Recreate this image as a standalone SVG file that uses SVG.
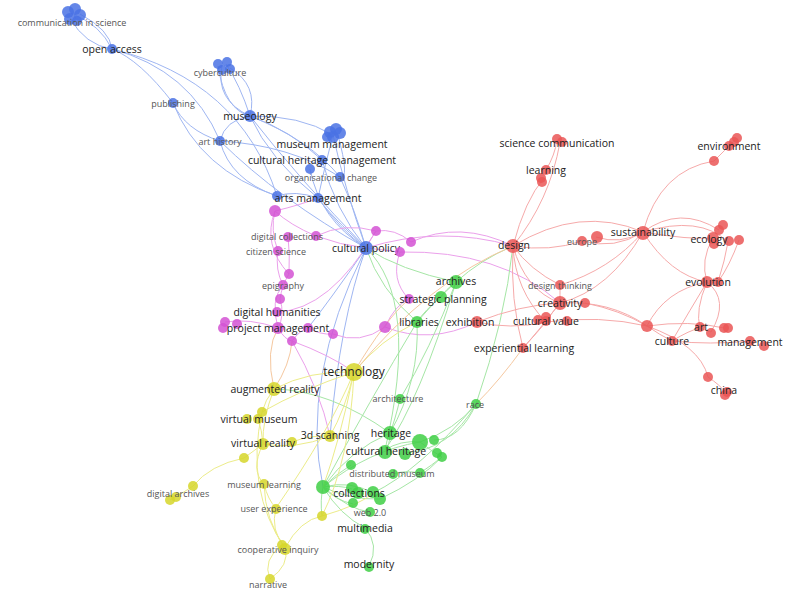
<svg xmlns="http://www.w3.org/2000/svg" width="785" height="598" viewBox="0 0 785 598">
<style>
.e{fill:none;stroke-width:1}
.eb{stroke:#9fb6f2}.er{stroke:#f6aaaa}.eg{stroke:#a5e6a5}.ey{stroke:#ecec8a}.em{stroke:#eba0eb}.eo{stroke:#f5c8a0}
.b{fill:#4a72e4;fill-opacity:.85}.r{fill:#ea5656;fill-opacity:.85}.g{fill:#3fcf45;fill-opacity:.85}.y{fill:#d6d62a;fill-opacity:.85}.m{fill:#d452d4;fill-opacity:.85}
text{font-family:"Open Sans","Noto Sans",sans-serif;text-anchor:middle;dominant-baseline:central}
.L{font-size:10.5px;fill:#222}.S{font-size:9px;fill:#555}.T{font-size:12px;fill:#222}
</style>
<rect width="785" height="598" fill="#fff"/>
<g id="connectors">
<path class="e eb" d="M75 15 Q100 25 112 49"/><path class="e eb" d="M70 18 Q85 45 112 49"/><path class="e eb" d="M80 14 Q110 30 112 49"/>
<path class="e eb" d="M112 49 Q140 60 173 103"/><path class="e eb" d="M112 49 Q190 70 220 141"/><path class="e eb" d="M112 49 Q240 80 277 196"/>
<path class="e eb" d="M173 103 Q185 130 220 141"/><path class="e eb" d="M173 103 Q200 170 277 196"/>
<path class="e eb" d="M222 66 Q215 100 250 116"/><path class="e eb" d="M226 64 Q240 85 250 116"/><path class="e eb" d="M230 68 Q258 85 250 116"/><path class="e eb" d="M218 66 Q225 110 250 116"/>
<path class="e eb" d="M250 116 Q225 120 220 141"/><path class="e eb" d="M250 116 Q300 115 333 135"/><path class="e eb" d="M250 116 Q290 130 322 160"/><path class="e eb" d="M250 116 Q270 160 318 198"/><path class="e eb" d="M250 116 Q300 180 366 248"/><path class="e eb" d="M250 116 Q310 140 340 177"/>
<path class="e eb" d="M220 141 Q230 180 277 196"/><path class="e eb" d="M220 141 Q280 200 366 248"/><path class="e eb" d="M220 141 Q290 145 340 177"/>
<path class="e eb" d="M333 135 Q345 190 366 248"/><path class="e eb" d="M333 135 Q325 165 318 198"/><path class="e eb" d="M322 160 Q335 210 366 248"/><path class="e eb" d="M310 169 Q320 220 366 248"/><path class="e eb" d="M340 177 Q355 210 366 248"/><path class="e eb" d="M318 198 Q340 230 366 248"/><path class="e eb" d="M318 198 Q330 215 366 248"/><path class="e eb" d="M318 198 Q295 190 277 196"/><path class="e eb" d="M338 135 Q350 180 340 177"/>
<path class="e eb" d="M366 248 Q300 380 323 487"/><path class="e eb" d="M366 248 Q340 320 330 436"/><path class="e eb" d="M366 248 Q330 300 308 328"/>
<path class="e em" d="M366 248 Q440 225 513 246"/><path class="e em" d="M400 252 Q500 250 560 303"/>
<path class="e em" d="M275 211 Q290 225 316 236"/><path class="e em" d="M275 211 Q300 205 318 198"/><path class="e em" d="M275 211 Q270 230 278 251"/><path class="e em" d="M316 236 Q340 245 366 248"/><path class="e em" d="M288 236 Q290 255 289 274"/><path class="e em" d="M278 251 Q275 270 283 285"/><path class="e em" d="M289 274 Q282 285 280 299"/><path class="e em" d="M283 285 Q270 300 278 328"/><path class="e em" d="M280 299 Q285 315 278 328"/><path class="e em" d="M278 328 Q250 318 225 322"/><path class="e em" d="M278 328 Q285 340 292 341"/><path class="e em" d="M292 341 Q300 330 308 328"/><path class="e em" d="M308 328 Q320 335 333 334"/><path class="e em" d="M333 334 Q360 345 385 327"/><path class="e em" d="M385 327 Q395 305 409 299"/><path class="e em" d="M376 231 Q395 228 411 242"/><path class="e em" d="M376 231 Q370 240 366 248"/><path class="e em" d="M411 242 Q460 220 513 246"/><path class="e em" d="M400 252 Q390 280 409 299"/><path class="e em" d="M316 236 Q345 222 376 231"/><path class="e em" d="M385 327 Q430 345 477 322"/><path class="e em" d="M366 248 Q385 250 400 252"/><path class="e em" d="M292 341 Q330 355 354 372"/><path class="e em" d="M275 211 Q262 245 289 274"/><path class="e em" d="M292 341 Q320 390 330 436"/><path class="e em" d="M277 312 Q330 310 376 231"/>
<path class="e eg" d="M456 282 Q435 300 417 322"/><path class="e eg" d="M456 282 Q445 290 441 297"/><path class="e eg" d="M441 297 Q425 310 417 322"/><path class="e eg" d="M456 282 Q400 270 366 248"/><path class="e eg" d="M417 322 Q380 290 366 248"/><path class="e eg" d="M417 322 Q420 380 390 433"/><path class="e eg" d="M456 282 Q430 350 400 399"/><path class="e eg" d="M400 399 Q395 420 390 433"/><path class="e eg" d="M476 404 Q455 430 420 442"/><path class="e eg" d="M476 404 Q460 440 434 440"/><path class="e eg" d="M476 404 Q450 450 405 453"/><path class="e eg" d="M476 404 Q505 320 513 246"/><path class="e eg" d="M456 282 Q480 260 513 246"/><path class="e eg" d="M390 433 Q390 445 385 450"/><path class="e eg" d="M420 442 Q400 440 385 450"/><path class="e eg" d="M420 442 Q430 450 442 457"/><path class="e eg" d="M323 487 Q340 485 352 489"/><path class="e eg" d="M323 487 Q350 480 373 493"/><path class="e eg" d="M323 487 Q350 500 380 499"/><path class="e eg" d="M323 487 Q335 500 353 504"/><path class="e eg" d="M323 487 Q350 510 370 512"/><path class="e eg" d="M323 487 Q340 515 365 528"/><path class="e eg" d="M323 487 Q350 450 390 433"/><path class="e eg" d="M323 487 Q370 450 420 442"/><path class="e eg" d="M365 528 Q380 545 369 566"/><path class="e eg" d="M351 465 Q335 475 323 487"/><path class="e eg" d="M393 474 Q405 470 420 473"/><path class="e eg" d="M420 473 Q432 465 442 457"/><path class="e eg" d="M417 322 Q370 400 323 487"/><path class="e eg" d="M274 389 Q330 390 390 433"/><path class="e eg" d="M322 516 Q320 500 323 487"/><path class="e eg" d="M373 493 Q420 470 476 404"/><path class="e eg" d="M380 499 Q420 480 442 457"/><path class="e eg" d="M456 282 Q420 400 385 450"/><path class="e eg" d="M366 248 Q420 300 385 450"/>
<path class="e ey" d="M354 372 Q310 370 274 389"/><path class="e ey" d="M354 372 Q345 410 330 436"/><path class="e ey" d="M354 372 Q300 390 262 412"/><path class="e ey" d="M354 372 Q380 340 417 322"/><path class="e eo" d="M354 372 Q385 320 409 299"/><path class="e ey" d="M354 372 Q350 460 322 516"/><path class="e ey" d="M354 372 Q340 440 323 487"/><path class="e ey" d="M274 389 Q265 400 262 412"/><path class="e ey" d="M274 389 Q262 420 263 444"/><path class="e ey" d="M258 419 Q262 430 263 444"/><path class="e ey" d="M263 444 Q255 450 244 458"/><path class="e ey" d="M244 458 Q210 465 193 486"/><path class="e ey" d="M193 486 Q180 495 170 500"/><path class="e ey" d="M263 444 Q250 470 264 484"/><path class="e ey" d="M264 484 Q268 500 276 508"/><path class="e ey" d="M276 508 Q270 530 285 548"/><path class="e ey" d="M285 548 Q290 565 270 579"/><path class="e ey" d="M285 548 Q300 520 322 516"/><path class="e ey" d="M330 436 Q310 435 292 442"/><path class="e ey" d="M330 436 Q295 450 263 444"/><path class="e ey" d="M264 484 Q265 520 285 548"/><path class="e ey" d="M262 412 Q245 490 285 548"/><path class="e ey" d="M282 545 Q262 560 270 579"/><path class="e eo" d="M274 389 Q265 350 278 328"/><path class="e eo" d="M274 389 Q290 365 292 341"/><path class="e ey" d="M354 372 Q330 430 276 508"/><path class="e ey" d="M322 516 Q360 505 373 493"/><path class="e eo" d="M354 372 Q430 280 513 246"/>
<path class="e er" d="M557 140 Q555 155 546 170"/><path class="e er" d="M544 178 Q525 200 513 246"/><path class="e er" d="M560 142 Q550 200 513 246"/><path class="e er" d="M513 246 Q550 252 582 241"/><path class="e er" d="M596 237 Q620 245 643 232"/><path class="e er" d="M582 241 Q615 250 643 232"/><path class="e er" d="M513 246 Q580 205 643 232"/><path class="e er" d="M513 246 Q530 270 560 285"/><path class="e er" d="M513 246 Q525 290 560 303"/><path class="e er" d="M513 246 Q515 290 546 322"/><path class="e er" d="M513 246 Q510 300 523 348"/><path class="e er" d="M643 232 Q660 170 714 161"/><path class="e er" d="M714 161 Q725 150 733 142"/><path class="e er" d="M643 232 Q680 205 719 230"/><path class="e er" d="M643 232 Q690 240 713 238"/><path class="e er" d="M643 232 Q700 215 728 242"/><path class="e er" d="M643 232 Q670 275 707 282"/><path class="e er" d="M643 232 Q610 290 560 303"/><path class="e er" d="M643 232 Q610 270 560 285"/><path class="e er" d="M713 238 Q700 260 707 282"/><path class="e er" d="M728 242 Q725 260 718 282"/><path class="e er" d="M739 240 Q730 265 718 282"/><path class="e er" d="M707 282 Q665 290 647 326"/><path class="e er" d="M707 282 Q690 310 672 341"/><path class="e er" d="M707 282 Q695 310 700 328"/><path class="e er" d="M707 282 Q730 300 711 332"/><path class="e er" d="M560 303 Q610 300 647 326"/><path class="e er" d="M560 303 Q520 305 477 322"/><path class="e er" d="M546 322 Q600 315 647 326"/><path class="e er" d="M647 326 Q660 335 672 341"/><path class="e er" d="M672 341 Q690 330 700 328"/><path class="e er" d="M672 341 Q710 345 750 341"/><path class="e er" d="M647 326 Q700 345 708 377"/><path class="e er" d="M700 328 Q705 330 711 332"/><path class="e er" d="M560 303 Q550 315 546 322"/><path class="e er" d="M560 285 Q560 295 560 303"/><path class="e er" d="M546 322 Q535 335 523 348"/><path class="e er" d="M560 303 Q535 335 523 348"/><path class="e er" d="M477 322 Q510 330 546 322"/><path class="e er" d="M585 303 Q620 310 647 326"/><path class="e er" d="M708 377 Q720 385 725 392"/><path class="e er" d="M647 326 Q690 320 724 328"/>
<path class="e eo" d="M523 348 Q500 380 476 404"/>
</g>
<g id="n-communication-in-science"><circle class="b" cx="68" cy="12" r="6"/><circle class="b" cx="75" cy="9" r="6"/><circle class="b" cx="80" cy="15" r="6"/><circle class="b" cx="70" cy="19" r="6"/><circle class="b" cx="77" cy="21" r="5"/><text class="S" x="72" y="22">communication in science</text></g>
<g id="n-open-access"><circle class="b" cx="112" cy="49" r="5"/><text class="L" x="112" y="49">open access</text></g>
<g id="n-cyberculture"><circle class="b" cx="218" cy="64" r="5"/><circle class="b" cx="227" cy="62" r="5"/><circle class="b" cx="222" cy="70" r="5"/><circle class="b" cx="230" cy="69" r="5"/><text class="S" x="220" y="72">cyberculture</text></g>
<g id="n-publishing"><circle class="b" cx="173" cy="103" r="5"/><text class="S" x="173" y="103">publishing</text></g>
<g id="n-museology"><circle class="b" cx="250" cy="116" r="6"/><text class="L" x="250" y="116">museology</text></g>
<g id="n-art-history"><circle class="b" cx="220" cy="141" r="5"/><text class="S" x="220" y="141">art history</text></g>
<g id="n-museum-management"><circle class="b" cx="330" cy="132" r="6"/><circle class="b" cx="336" cy="129" r="6"/><circle class="b" cx="333" cy="137" r="6"/><circle class="b" cx="340" cy="133" r="6"/><circle class="b" cx="327" cy="137" r="5"/><text class="L" x="332" y="144">museum management</text></g>
<g id="n-cultural-heritage-management"><circle class="b" cx="322" cy="160" r="5"/><circle class="b" cx="310" cy="169" r="5"/><text class="L" x="322" y="160">cultural heritage management</text></g>
<g id="n-organisational-change"><circle class="b" cx="340" cy="177" r="5"/><text class="S" x="331" y="177">organisational change</text></g>
<g id="n-arts-management"><circle class="b" cx="318" cy="198" r="5"/><circle class="b" cx="277" cy="196" r="5"/><text class="L" x="318" y="198">arts management</text></g>
<g id="n-cultural-policy"><circle class="b" cx="366" cy="248" r="7"/><text class="L" x="366" y="248">cultural policy</text></g>
<g id="n-magenta-misc"><circle class="m" cx="275" cy="211" r="6"/><circle class="m" cx="316" cy="236" r="5"/><circle class="m" cx="289" cy="274" r="5"/><circle class="m" cx="280" cy="299" r="5"/><circle class="m" cx="225" cy="322" r="5"/><circle class="m" cx="223" cy="328" r="5"/><circle class="m" cx="237" cy="324" r="5"/><circle class="m" cx="292" cy="341" r="5"/><circle class="m" cx="308" cy="328" r="5"/><circle class="m" cx="333" cy="334" r="5"/><circle class="m" cx="385" cy="327" r="6"/><circle class="m" cx="376" cy="231" r="5"/><circle class="m" cx="400" cy="252" r="5"/><circle class="m" cx="411" cy="242" r="5"/></g>
<g id="n-digital-collections"><circle class="m" cx="288" cy="237" r="5"/><text class="S" x="287" y="236">digital collections</text></g>
<g id="n-citizen-science"><circle class="m" cx="278" cy="251" r="5"/><text class="S" x="276" y="251">citizen science</text></g>
<g id="n-epigraphy"><circle class="m" cx="283" cy="285" r="5"/><text class="S" x="283" y="285">epigraphy</text></g>
<g id="n-digital-humanities"><circle class="m" cx="277" cy="312" r="5"/><text class="L" x="277" y="312">digital humanities</text></g>
<g id="n-project-management"><circle class="m" cx="278" cy="328" r="6"/><text class="L" x="278" y="328">project management</text></g>
<g id="n-strategic-planning"><circle class="m" cx="409" cy="299" r="5"/><circle class="g" cx="441" cy="297" r="6"/><text class="L" x="443" y="299">strategic planning</text></g>
<g id="n-archives"><circle class="g" cx="456" cy="282" r="7"/><text class="L" x="456" y="281">archives</text></g>
<g id="n-libraries"><circle class="g" cx="417" cy="322" r="6"/><text class="L" x="419" y="322">libraries</text></g>
<g id="n-exhibition"><circle class="r" cx="477" cy="322" r="6"/><text class="L" x="470" y="322">exhibition</text></g>
<g id="n-architecture"><circle class="g" cx="400" cy="399" r="5"/><text class="S" x="398" y="398">architecture</text></g>
<g id="n-race"><circle class="g" cx="476" cy="404" r="5"/><text class="S" x="475" y="404">race</text></g>
<g id="n-heritage"><circle class="g" cx="390" cy="433" r="7"/><text class="L" x="391" y="433">heritage</text></g>
<g id="n-cultural-heritage"><circle class="g" cx="420" cy="442" r="8"/><circle class="g" cx="385" cy="452" r="7"/><circle class="g" cx="405" cy="454" r="6"/><circle class="g" cx="434" cy="440" r="5"/><circle class="g" cx="437" cy="453" r="5"/><circle class="g" cx="442" cy="457" r="5"/><circle class="g" cx="351" cy="465" r="5"/><text class="L" x="386" y="451">cultural heritage</text></g>
<g id="n-distributed-museum"><circle class="g" cx="393" cy="474" r="5"/><circle class="g" cx="420" cy="473" r="5"/><text class="S" x="392" y="473">distributed museum</text></g>
<g id="n-collections"><circle class="g" cx="323" cy="487" r="7"/><circle class="g" cx="352" cy="488" r="6"/><circle class="g" cx="358" cy="493" r="6"/><circle class="g" cx="373" cy="492" r="6"/><circle class="g" cx="380" cy="499" r="6"/><circle class="g" cx="353" cy="503" r="5"/><text class="L" x="359" y="493">collections</text></g>
<g id="n-web-2-0"><circle class="g" cx="370" cy="512" r="5"/><text class="S" x="370" y="512">web 2.0</text></g>
<g id="n-multimedia"><circle class="g" cx="365" cy="529" r="5"/><text class="L" x="365" y="528">multimedia</text></g>
<g id="n-modernity"><circle class="g" cx="369" cy="567" r="5"/><text class="L" x="369" y="564">modernity</text></g>
<g id="n-technology"><circle class="y" cx="354" cy="372" r="9"/><text class="T" x="354" y="371">technology</text></g>
<g id="n-augmented-reality"><circle class="y" cx="274" cy="389" r="7"/><text class="L" x="275" y="389">augmented reality</text></g>
<g id="n-virtual-museum"><circle class="y" cx="262" cy="412" r="5"/><circle class="y" cx="247" cy="419" r="5"/><circle class="y" cx="258" cy="419" r="5"/><text class="L" x="259" y="419">virtual museum</text></g>
<g id="n-virtual-reality"><circle class="y" cx="263" cy="444" r="6"/><circle class="y" cx="292" cy="442" r="5"/><circle class="y" cx="244" cy="458" r="5"/><text class="L" x="263" y="443">virtual reality</text></g>
<g id="n-3d-scanning"><circle class="y" cx="330" cy="436" r="6"/><text class="L" x="330" y="435">3d scanning</text></g>
<g id="n-digital-archives"><circle class="y" cx="170" cy="500" r="5"/><circle class="y" cx="176" cy="497" r="5"/><circle class="y" cx="193" cy="486" r="5"/><text class="S" x="178" y="493">digital archives</text></g>
<g id="n-museum-learning"><circle class="y" cx="264" cy="484" r="5"/><text class="S" x="264" y="484">museum learning</text></g>
<g id="n-user-experience"><circle class="y" cx="276" cy="509" r="5"/><circle class="y" cx="322" cy="516" r="5"/><text class="S" x="274" y="508">user experience</text></g>
<g id="n-cooperative-inquiry"><circle class="y" cx="285" cy="549" r="6"/><circle class="y" cx="282" cy="545" r="5"/><text class="S" x="278" y="549">cooperative inquiry</text></g>
<g id="n-narrative"><circle class="y" cx="270" cy="579" r="5"/><text class="S" x="268" y="584">narrative</text></g>
<g id="n-science-communication"><circle class="r" cx="557" cy="139" r="5"/><circle class="r" cx="562" cy="142" r="5"/><text class="L" x="557" y="143">science communication</text></g>
<g id="n-learning"><circle class="r" cx="546" cy="170" r="5"/><circle class="r" cx="542" cy="182" r="5"/><circle class="r" cx="541" cy="178" r="5"/><text class="L" x="546" y="170">learning</text></g>
<g id="n-design"><circle class="r" cx="513" cy="246" r="7"/><text class="L" x="514" y="245">design</text></g>
<g id="n-europe"><circle class="r" cx="582" cy="241" r="5"/><circle class="r" cx="597" cy="237" r="6"/><text class="S" x="582" y="241">europe</text></g>
<g id="n-sustainability"><circle class="r" cx="643" cy="233" r="7"/><text class="L" x="643" y="232">sustainability</text></g>
<g id="n-environment"><circle class="r" cx="737" cy="138" r="5"/><circle class="r" cx="734" cy="142" r="5"/><circle class="r" cx="729" cy="146" r="5"/><circle class="r" cx="714" cy="161" r="5"/><text class="L" x="729" y="146">environment</text></g>
<g id="n-ecology"><circle class="r" cx="713" cy="238" r="6"/><circle class="r" cx="719" cy="230" r="5"/><circle class="r" cx="723" cy="225" r="5"/><circle class="r" cx="714" cy="244" r="5"/><circle class="r" cx="729" cy="241" r="5"/><circle class="r" cx="739" cy="240" r="5"/><text class="L" x="709" y="239">ecology</text></g>
<g id="n-evolution"><circle class="r" cx="707" cy="282" r="6"/><circle class="r" cx="718" cy="282" r="5"/><text class="L" x="708" y="282">evolution</text></g>
<g id="n-design-thinking"><circle class="r" cx="560" cy="285" r="5"/><text class="S" x="560" y="285">design thinking</text></g>
<g id="n-creativity"><circle class="r" cx="560" cy="303" r="7"/><circle class="r" cx="585" cy="303" r="5"/><text class="L" x="560" y="303">creativity</text></g>
<g id="n-cultural-value"><circle class="r" cx="546" cy="321" r="5"/><circle class="r" cx="538" cy="320" r="5"/><circle class="r" cx="546" cy="317" r="5"/><circle class="r" cx="567" cy="321" r="5"/><text class="L" x="546" y="321">cultural value</text></g>
<g id="n-experiential-learning"><circle class="r" cx="523" cy="348" r="5"/><text class="L" x="524" y="348">experiential learning</text></g>
<g id="n-culture"><circle class="r" cx="647" cy="326" r="6"/><circle class="r" cx="672" cy="341" r="5"/><text class="L" x="672" y="341">culture</text></g>
<g id="n-art"><circle class="r" cx="700" cy="327" r="5"/><circle class="r" cx="711" cy="333" r="5"/><text class="L" x="701" y="327">art</text></g>
<g id="n-management"><circle class="r" cx="724" cy="328" r="5"/><circle class="r" cx="728" cy="328" r="5"/><circle class="r" cx="750" cy="341" r="5"/><circle class="r" cx="764" cy="346" r="5"/><text class="L" x="750" y="342">management</text></g>
<g id="n-china"><circle class="r" cx="708" cy="377" r="5"/><circle class="r" cx="727" cy="392" r="5"/><circle class="r" cx="725" cy="395" r="5"/><text class="L" x="724" y="390">china</text></g>
</svg>
